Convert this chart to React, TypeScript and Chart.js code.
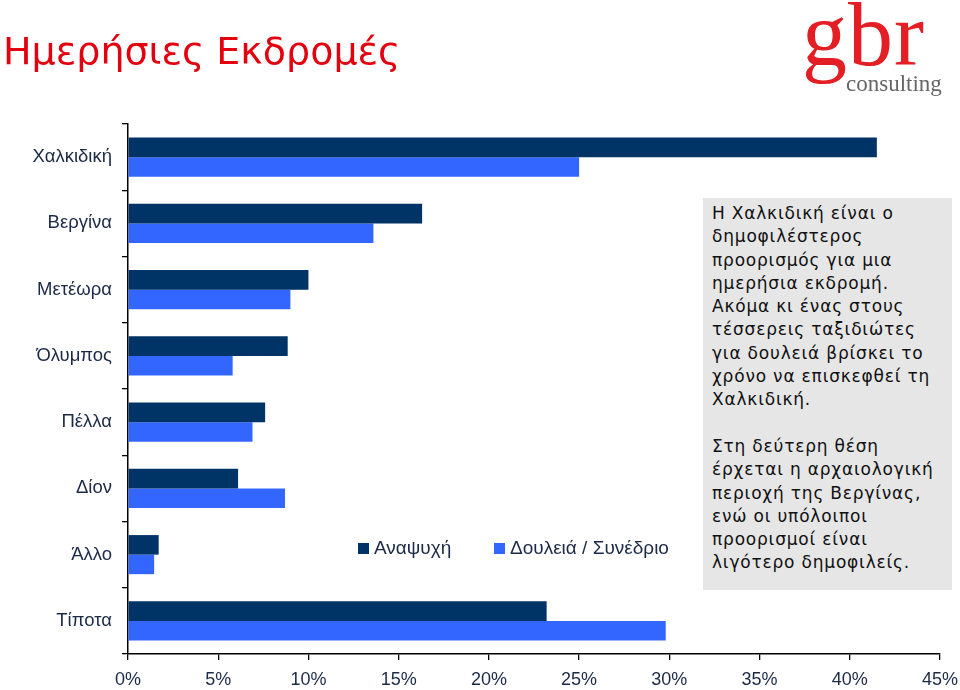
import React, { useEffect, useRef } from 'react';
import { Chart, registerables } from 'chart.js';

Chart.register(...registerables);

const categories = ['Χαλκιδική', 'Βεργίνα', 'Μετέωρα', 'Όλυμπος', 'Πέλλα', 'Δίον', 'Άλλο', 'Τίποτα'];
const leisure = [41.5, 16.3, 10.0, 8.85, 7.6, 6.1, 1.7, 23.2];
const business = [25.0, 13.6, 9.0, 5.8, 6.9, 8.7, 1.45, 29.8];
const seriesNames = ['Αναψυχή', 'Δουλειά / Συνέδριο'];
const xMax = 45;
const xStep = 5;

const titleText = 'Ημερήσιες Εκδρομές';
const noteParagraph1 = [
  'Η Χαλκιδική είναι ο',
  'δημοφιλέστερος',
  'προορισμός για μια',
  'ημερήσια εκδρομή.',
  'Ακόμα κι ένας στους',
  'τέσσερεις ταξιδιώτες',
  'για δουλειά βρίσκει το',
  'χρόνο να επισκεφθεί τη',
  'Χαλκιδική.',
];
const noteParagraph2 = [
  'Στη δεύτερη θέση',
  'έρχεται η αρχαιολογική',
  'περιοχή της Βεργίνας,',
  'ενώ οι υπόλοιποι',
  'προορισμοί είναι',
  'λιγότερο δημοφιλείς.',
];

const DARK = '#003366';
const LIGHT = '#3366ff';
const LABEL_COLOR = '#1b2a47';
const FONT = '"Liberation Sans", Arial, sans-serif';

const insideLegend = {
  id: 'insideLegend',
  afterDatasetsDraw(chart: any) {
    const ctx = chart.ctx;
    const items = chart.data.datasets.map((d: any) => ({ text: d.label, color: d.backgroundColor }));
    const starts = [358, 494];
    const cy = 549;
    ctx.save();
    ctx.font = '19px ' + FONT;
    ctx.textBaseline = 'middle';
    ctx.textAlign = 'left';
    items.forEach((it: any, i: number) => {
      const x = starts[i];
      ctx.fillStyle = it.color;
      ctx.fillRect(x, cy - 6, 11, 11);
      ctx.fillStyle = LABEL_COLOR;
      ctx.fillText(it.text, x + 16, cy);
    });
    ctx.restore();
  },
};

export default function App() {
  const canvasRef = useRef<HTMLCanvasElement | null>(null);

  useEffect(() => {
    document.body.style.margin = '0';
    const canvas = canvasRef.current;
    if (!canvas) return;
    const chart = new Chart(canvas, {
      type: 'bar',
      data: {
        labels: categories,
        datasets: [
          { label: seriesNames[0], data: leisure, backgroundColor: DARK, borderWidth: 0 },
          { label: seriesNames[1], data: business, backgroundColor: LIGHT, borderWidth: 0 },
        ],
      },
      options: {
        indexAxis: 'y',
        responsive: false,
        animation: false,
        layout: { padding: { top: 124, right: 20, bottom: 0, left: 0 } },
        datasets: { bar: { categoryPercentage: 0.59, barPercentage: 1.0 } },
        plugins: {
          legend: { display: false },
          tooltip: { enabled: false },
          title: { display: false },
        },
        scales: {
          x: {
            type: 'linear',
            min: 0,
            max: xMax,
            ticks: {
              stepSize: xStep,
              callback: (v: any) => v + '%',
              color: LABEL_COLOR,
              font: { family: FONT, size: 18 },
              padding: 9,
              maxRotation: 0,
            },
            grid: { drawOnChartArea: false, drawTicks: true, tickLength: 6, color: '#000', lineWidth: 1.3 },
            border: { display: true, color: '#000', width: 1.5 },
            afterFit: (scale: any) => {
              scale.height = 36;
              scale.paddingLeft = 0;
              scale.paddingRight = 0;
            },
          },
          y: {
            type: 'category',
            offset: true,
            ticks: {
              color: LABEL_COLOR,
              font: { family: FONT, size: 18.5 },
              padding: 10,
            },
            grid: { offset: true, drawOnChartArea: false, drawTicks: true, tickLength: 6, color: '#000', lineWidth: 1.3 },
            border: { display: true, color: '#000', width: 1.5 },
            afterFit: (scale: any) => {
              scale.width = 128;
              scale.paddingTop = 0;
              scale.paddingBottom = 0;
            },
          },
        },
      },
      plugins: [insideLegend],
    });
    return () => chart.destroy();
  }, []);

  const noteLine = { margin: 0, whiteSpace: 'nowrap' as const };

  return (
    <div style={{ position: 'absolute', left: 0, top: 0, width: 960, height: 690, background: '#fff', overflow: 'hidden' }}>
      <canvas ref={canvasRef} width={960} height={690} style={{ position: 'absolute', left: 0, top: 0 }} />
      <div
        style={{
          position: 'absolute',
          left: 3,
          top: 26,
          fontFamily: '"DejaVu Sans", Verdana, sans-serif',
          fontSize: 38,
          color: '#e3000f',
          whiteSpace: 'nowrap',
          lineHeight: '50px',
        }}
      >
        {titleText}
      </div>
      <div style={{ position: 'absolute', left: 800, top: -20, width: 160, height: 120 }}>
        <div
          style={{
            position: 'absolute',
            left: 2,
            top: -10,
            fontFamily: '"Liberation Serif", "Times New Roman", serif',
            fontSize: 90,
            color: '#e31e24',
            lineHeight: '130px',
            letterSpacing: 1,
          }}
        >
          gbr
        </div>
        <div
          style={{
            position: 'absolute',
            left: 46,
            top: 92,
            fontFamily: '"Liberation Serif", "Times New Roman", serif',
            fontSize: 23,
            color: '#666',
            lineHeight: '24px',
          }}
        >
          consulting
        </div>
      </div>
      <div
        style={{
          position: 'absolute',
          left: 703,
          top: 198,
          width: 249,
          height: 392,
          background: '#e6e6e6',
          boxSizing: 'border-box',
          padding: '4px 0 0 9px',
          fontFamily: '"DejaVu Sans", Verdana, sans-serif',
          fontSize: 17,
          letterSpacing: 0.8,
          lineHeight: '23.3px',
          color: '#111',
        }}
      >
        {noteParagraph1.map((t, i) => (
          <p key={'a' + i} style={noteLine}>{t}</p>
        ))}
        <p style={{ ...noteLine, height: 23.3 }}>{'\u00a0'}</p>
        {noteParagraph2.map((t, i) => (
          <p key={'b' + i} style={noteLine}>{t}</p>
        ))}
      </div>
    </div>
  );
}
